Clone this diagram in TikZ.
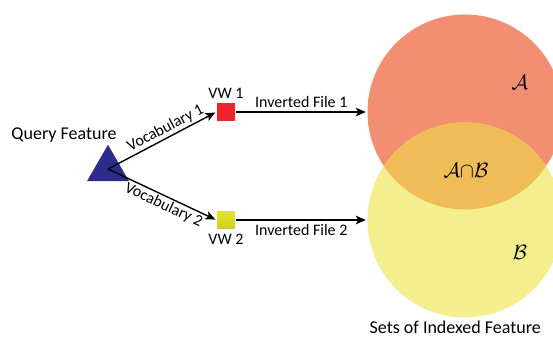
\documentclass[tikz,border=0pt]{standalone}
\usepackage{amsmath}
\usepackage{amssymb}
\usepackage{fontspec}
\setmainfont{Carlito}
\usetikzlibrary{positioning}
\usetikzlibrary{arrows.meta,calc,positioning,shapes}
\definecolor{qblue}{RGB}{42,45,140}
\definecolor{vwred}{RGB}{236,36,46}
\definecolor{vwyellowtop}{RGB}{232,230,36}
\definecolor{vwyellowbot}{RGB}{200,206,40}
\definecolor{setred}{RGB}{242,142,114}
\definecolor{setyellow}{RGB}{244,238,142}
\definecolor{setboth}{RGB}{240,188,88}
\tikzset{
    bovw/.style={>={Stealth[length=10pt,width=8.5pt,inset=2.5pt]},shorten >=1pt,auto,x=1pt,y=1pt,
                     line width=1.4pt,font=\fontsize{16}{19}\selectfont},
    query/.style={regular polygon, regular polygon sides=3, fill=qblue,
                     minimum size=48.5pt, inner sep=0pt},
    vword/.style={rectangle, draw=white, line width=0.4pt, minimum size=19pt, inner sep=0pt},
    vset/.style={circle, minimum size=195pt, inner sep=0pt},
    vocab/.style={font=\fontsize{16}{19}\selectfont, inner sep=1.5pt},
    setlabel/.style={font=\fontsize{22}{26}\selectfont},
    }

\begin{document}
\begin{tikzpicture}[bovw]
            \useasboundingbox (0,0) rectangle (553,339);
            % sets of indexed features
            \node[vset, fill=setred] (setA) at (465,227) {};
            \node[vset, fill=setyellow] (setB) at (465,119) {};
            \begin{scope}
                \clip (setA.center) circle (97.5pt);
                \fill[setboth] (setB.center) circle (97.5pt);
            \end{scope}
            \node[setlabel] (labA) at (520,257) {$\mathcal{A}$};
            \node[setlabel] (labB) at (520,87) {$\mathcal{B}$};
            \node[setlabel] (labAB) at (466,169) {$\mathcal{A}{\cap}\mathcal{B}$};
            \node[anchor=base west, inner sep=0pt, font=\fontsize{18}{22}\selectfont] (sets) at (369,5) {Sets of Indexed Feature};

            % query and visual words
            \node[query] (qf) at (108,170) {};
            \node (qlabel) at (64,204) {\fontsize{18}{21}\selectfont Query Feature};
            \node[vword, fill=vwred] (vw1) [label=above: {VW 1}] at (226,227) {};
            \node[vword, top color=vwyellowtop, bottom color=vwyellowbot] (vw2) [label=below: {VW 2}] at (226,119) {};

            \draw[->] (qf.center) -- node[vocab, sloped, above, pos=0.57] {Vocabulary 1} (vw1.west);
            \draw[->] (qf.center) -- node[vocab, sloped, below, pos=0.55] {Vocabulary 2} (vw2.west);
            \draw[->] (vw1.east) -- node[above] {Inverted File 1} (setA.west);
            \draw[->] (vw2.east) -- node[below] {Inverted File 2} (setB.west);
        \end{tikzpicture}
\end{document}
